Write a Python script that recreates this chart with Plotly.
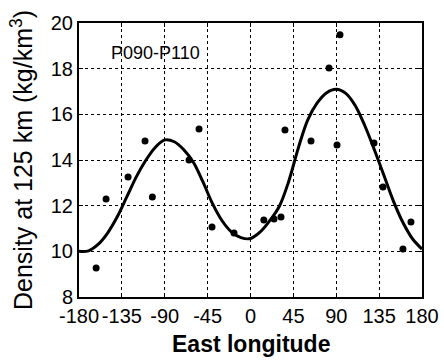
import plotly.graph_objects as go

# Observed data points (East longitude, density)
obs_lon = [-162, -151.6, -128.5, -110.7, -103, -64.5, -54, -40.4, -17.3, 14, 24.7, 32,
           36.2, 63.5, 82.4, 90.8, 93.9, 129.6, 139, 168.4, 160]
obs_den = [9.27, 12.29, 13.26, 14.83, 12.38, 14.0, 15.36, 11.07, 10.8, 11.37, 11.42, 11.5,
           15.31, 14.83, 18.03, 14.66, 19.48, 14.74, 12.82, 11.29, 10.1]

# Fitted curve
fit_lon = [-180, -170, -160, -150, -140, -130, -120, -110, -100, -90, -80, -70, -60, -50,
           -40, -30, -20, -10, 0, 10, 20, 30, 40, 50, 60, 70, 80, 90, 100, 110, 120, 130,
           140, 150, 160, 170, 180]
fit_den = [10.0, 10.02, 10.3, 10.8, 11.5, 12.37, 13.25, 13.98, 14.55, 14.88, 14.8, 14.45,
           13.9, 13.05, 12.1, 11.35, 10.85, 10.6, 10.56, 10.84, 11.33, 11.95, 13.05, 14.5,
           15.75, 16.5, 16.95, 17.1, 16.92, 16.38, 15.5, 14.45, 13.33, 12.2, 11.26, 10.55, 10.1]

x_ticks = [-180, -135, -90, -45, 0, 45, 90, 135, 180]
y_ticks = [8, 10, 12, 14, 16, 18, 20]

FONT = "Liberation Sans, Arial, sans-serif"

fig = go.Figure()
fig.add_trace(go.Scatter(x=fit_lon, y=fit_den, mode="lines",
                         line=dict(color="black", width=3, shape="spline", smoothing=1.0),
                         hoverinfo="skip", showlegend=False))
fig.add_trace(go.Scatter(x=obs_lon, y=obs_den, mode="markers",
                         marker=dict(color="black", size=7),
                         showlegend=False))

fig.add_annotation(x=-100, y=18.67, text="P090-P110", showarrow=False,
                   font=dict(family=FONT, size=18, color="black"))

# x-axis title placed as a paper annotation so it can sit at the very bottom
fig.add_annotation(x=0.5, y=-0.228, xref="paper", yref="paper", yanchor="bottom",
                   text="<b>East longitude</b>", showarrow=False,
                   font=dict(family=FONT, size=23, color="black"))

axis_common = dict(showline=True, linecolor="black", linewidth=2, mirror="ticks",
                   ticks="inside", ticklen=4, tickcolor="black", tickwidth=1,
                   showgrid=True, gridcolor="black", gridwidth=1, griddash="dot",
                   zeroline=False, automargin=False,
                   tickfont=dict(family=FONT, size=20, color="black"))

fig.update_xaxes(range=[-180, 180], tickvals=x_ticks, ticktext=[str(v) for v in x_ticks],
                 tickangle=0, **axis_common)
fig.update_yaxes(range=[8, 20], tickvals=y_ticks, ticktext=[str(v) for v in y_ticks],
                 title=dict(text="Density at 125 km (kg/km<sup>3</sup>)",
                            font=dict(family=FONT, size=25, color="black"), standoff=11),
                 **axis_common)

fig.update_layout(width=444, height=360, margin=dict(l=79, r=22, t=23, b=63),
                  paper_bgcolor="white", plot_bgcolor="white")

fig.write_html("out.html")
